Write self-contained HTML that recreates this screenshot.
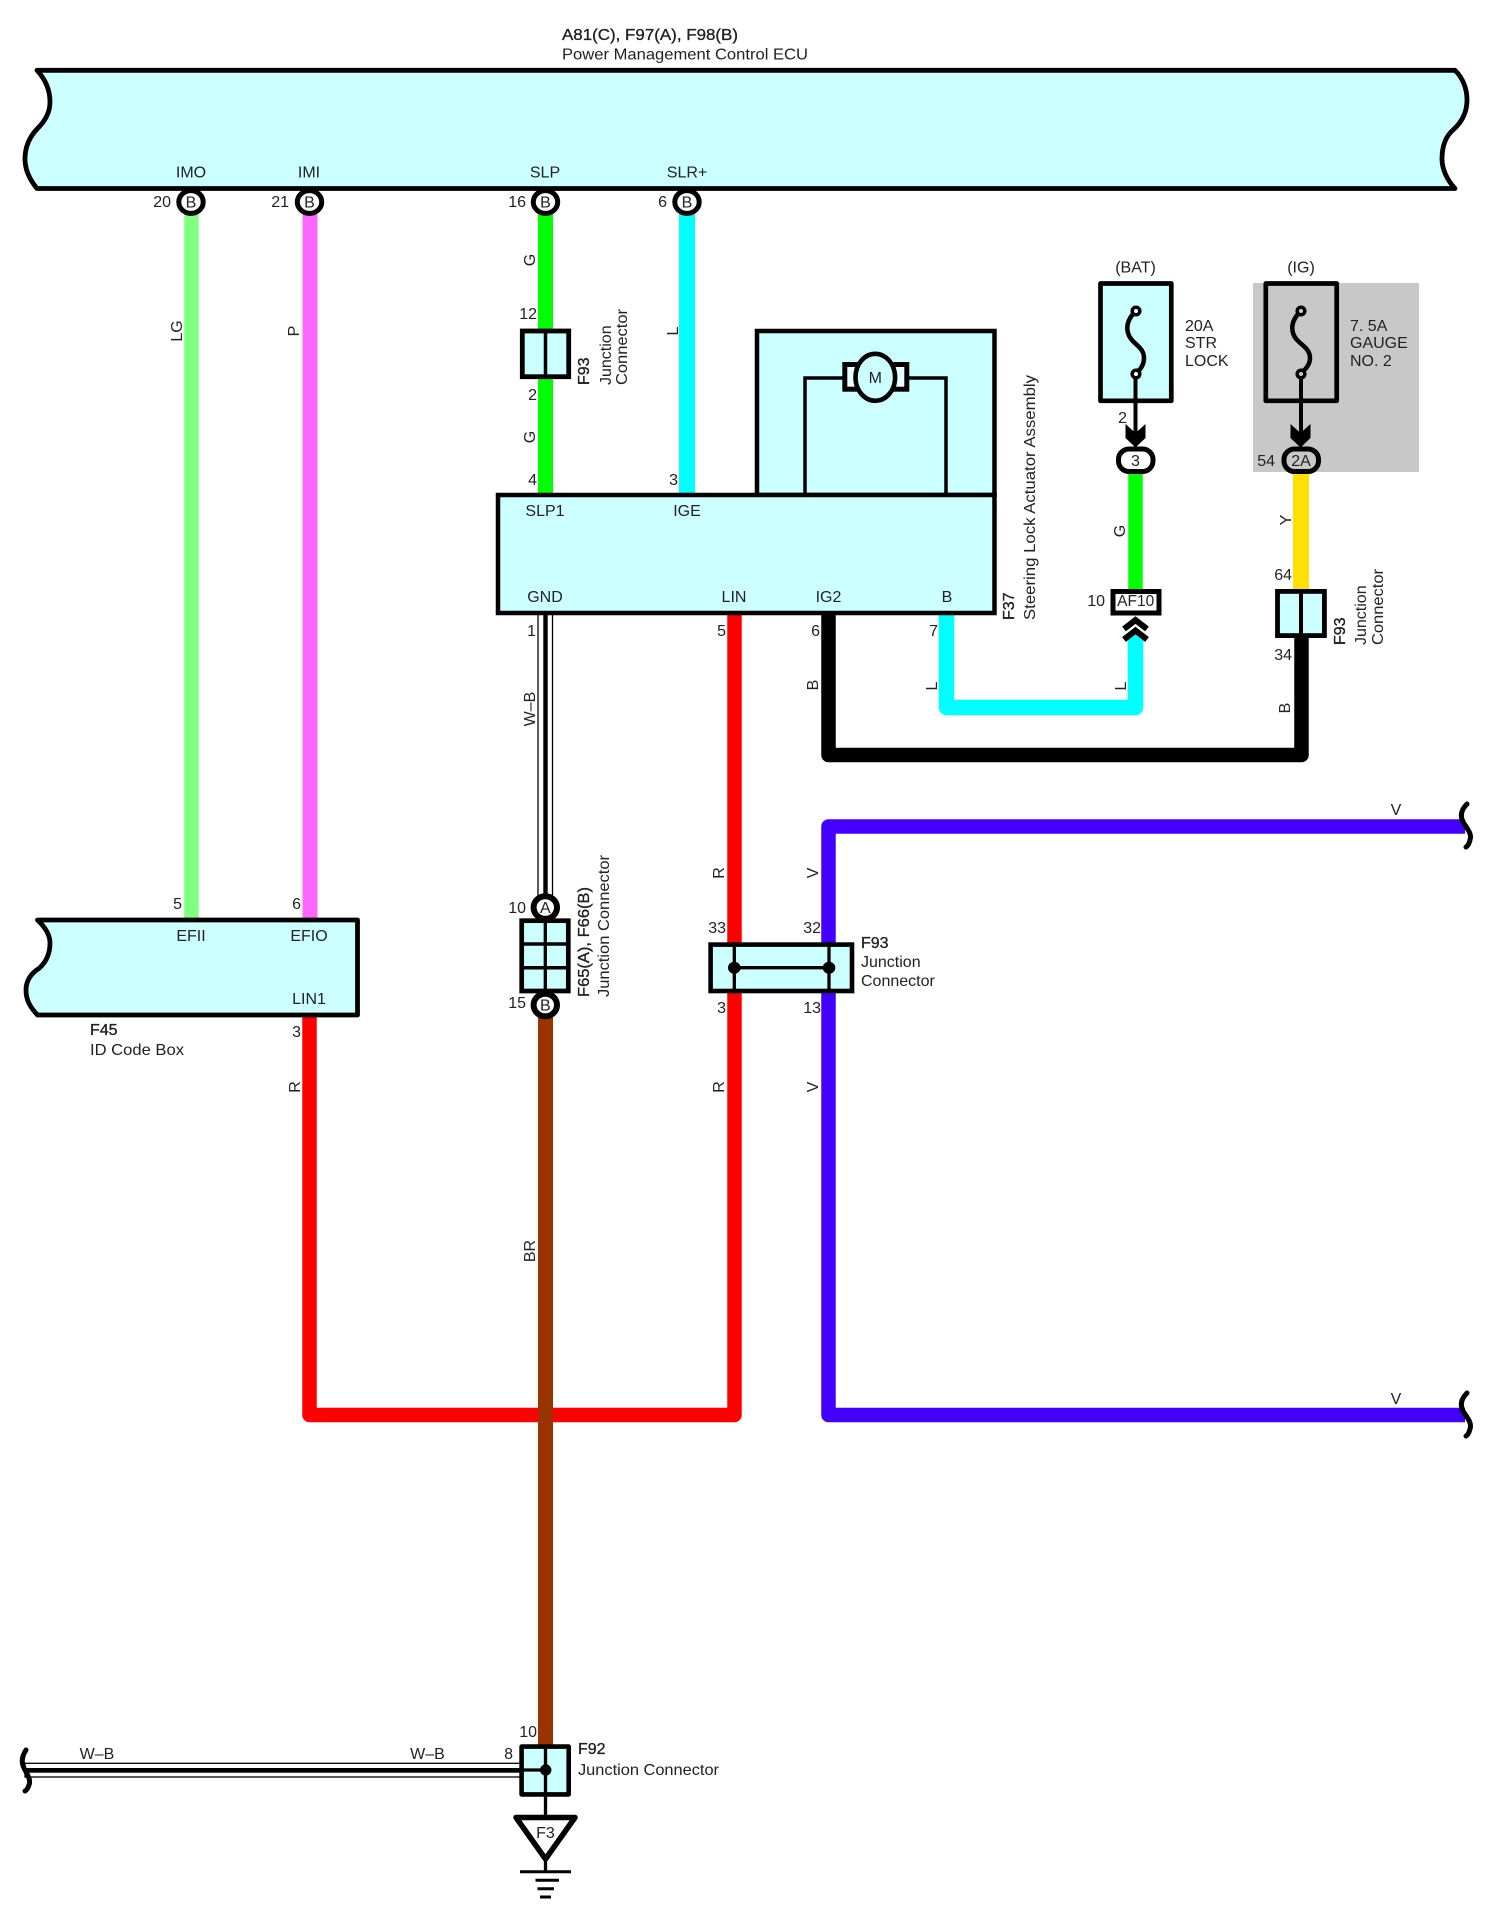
<!DOCTYPE html>
<html><head><meta charset="utf-8"><style>
html,body{margin:0;padding:0;background:#fff}
svg{display:block}
text{font-family:"Liberation Sans",Arial,sans-serif;font-size:16px;fill:#222}
.b{stroke:#111;stroke-width:.3px}
.m{text-anchor:middle}
.e{text-anchor:end}
</style></head><body>
<svg xmlns="http://www.w3.org/2000/svg" width="1494" height="1908" viewBox="0 0 1494 1908">
<rect width="1494" height="1908" fill="#fff"/>
<rect x="1253" y="283" width="166" height="189" fill="#c8c8c8"/>

<!-- wires -->
<g fill="none" stroke-linejoin="round">
<path d="M191.500 214V920" stroke="#80ff80" stroke-width="14.500"/>
<path d="M310 214V920" stroke="#ff66ff" stroke-width="15"/>
<path d="M545.500 214V495" stroke="#00ff00" stroke-width="15"/>
<path d="M687 214V495" stroke="#00ffff" stroke-width="16"/>
<path d="M1135.500 472V590" stroke="#00ff00" stroke-width="14.500"/>
<path d="M1301 472V590" stroke="#ffe000" stroke-width="16"/>
<path d="M946.500 612V707.500H1135.500V634" stroke="#00ffff" stroke-width="15.500"/>
<path d="M828.500 612V755H1301.500V636" stroke="#000" stroke-width="14.500"/>
<path d="M1465 826.500H828.500V1415H1465" stroke="#4400ff" stroke-width="14.500"/>
<path d="M309.500 1014V1415H734.500V612" stroke="#ff0000" stroke-width="14.500"/>
<path d="M545.500 1016V1746" stroke="#993300" stroke-width="15"/>
</g>

<!-- W-B wires -->
<rect x="538" y="612" width="14.500" height="285" fill="#fff" stroke="#000" stroke-width="1.300"/>
<rect x="543.300" y="612" width="4.400" height="285" fill="#000"/>
<rect x="25" y="1763.300" width="496" height="13.700" fill="#fff" stroke="#000" stroke-width="1.300"/>
<rect x="25" y="1768" width="496" height="4.700" fill="#000"/>

<!-- squiggles -->
<g fill="none" stroke="#000" stroke-width="5" stroke-linecap="round">
<path d="M1467 804C1461 810 1460 816 1463 822C1468 830 1472 834 1470 840C1469 844 1468 846 1466 847"/>
<path d="M1467 1393C1461 1399 1460 1405 1463 1411C1468 1419 1472 1423 1470 1429C1469 1433 1468 1435 1466 1436"/>
<path d="M26 1750C22 1756 21 1762 24 1768C28 1776 31 1780 29 1785C28 1788 27 1790 25 1791"/>
</g>

<!-- main ECU -->
<path d="M37 70.300H1455C1463 78 1467 89 1467 100C1467 112 1462 122 1453 130C1445 137 1442 148 1442 159C1442 169 1447 180 1455 188.500H37C30 180 25 170 25 159C25 148 29 137 38 128C46 120 50 112 50 102C50 90 45 79 37 70.300Z" fill="#ccffff" stroke="#000" stroke-width="4.800" stroke-linejoin="round"/>

<!-- F45 -->
<path d="M37.500 920H357.500V1015H37.500C30 1007 26 1000 26 990C26 981 30 974 39.500 968C46 962 50 954 50 943C50 935 45 927 37.500 920Z" fill="#ccffff" stroke="#000" stroke-width="4.800" stroke-linejoin="round"/>

<!-- F37 -->
<rect x="757" y="331" width="237.500" height="164" fill="#ccffff" stroke="#000" stroke-width="4.500"/>
<rect x="498" y="495" width="496.500" height="118" fill="#ccffff" stroke="#000" stroke-width="4.500"/>
<path d="M805 495V378H946V495" fill="none" stroke="#000" stroke-width="3.500"/>
<rect x="844.800" y="364.500" width="62" height="24.700" fill="#e8ffff" stroke="#000" stroke-width="5"/>
<ellipse cx="875.300" cy="377.300" rx="19.800" ry="23.500" fill="#ccffff" stroke="#000" stroke-width="4.600"/>

<!-- pin circles -->
<g fill="#fff" stroke="#000" stroke-width="5">
<ellipse cx="191" cy="202" rx="12.200" ry="11.400"/>
<ellipse cx="309.500" cy="202" rx="12.200" ry="11.400"/>
<ellipse cx="545.500" cy="202" rx="12.200" ry="11.400"/>
<ellipse cx="687" cy="202" rx="12.200" ry="11.400"/>
<ellipse cx="545.300" cy="907.500" rx="11.700" ry="11.300" stroke-width="6"/>
<ellipse cx="545.300" cy="1005" rx="11.700" ry="11.300" stroke-width="6"/>
</g>

<!-- junction F93 top -->
<rect x="522.300" y="331" width="46.400" height="45.700" fill="#ccffff" stroke="#000" stroke-width="4.800"/>
<path d="M545.500 331V377" stroke="#000" stroke-width="3.500"/>

<!-- F93 right -->
<rect x="1277.500" y="591.400" width="46.900" height="44.200" fill="#ccffff" stroke="#000" stroke-width="4.800"/>
<path d="M1301 591V637" stroke="#000" stroke-width="4"/>

<!-- F65/F66 -->
<rect x="521.700" y="920.700" width="46.600" height="70.300" fill="#ccffff" stroke="#000" stroke-width="4.700"/>
<path d="M545.300 921V991" stroke="#000" stroke-width="3.300"/>
<path d="M522 944H568M522 967.700H568" stroke="#000" stroke-width="3.500"/>

<!-- F93 mid -->
<rect x="710.600" y="944.600" width="141.400" height="46.400" fill="#ccffff" stroke="#000" stroke-width="4.600"/>
<path d="M734.300 945V991M829 945V991M734.300 967.700H829" stroke="#000" stroke-width="3.300"/>
<ellipse cx="734.300" cy="967.700" rx="6.300" ry="6" fill="#000"/>
<ellipse cx="829" cy="967.700" rx="6.300" ry="6" fill="#000"/>

<!-- fuses -->
<rect x="1100.500" y="283.500" width="70.800" height="117.300" fill="#ccffff" stroke="#000" stroke-width="4.700" stroke-linejoin="round"/>
<rect x="1265.800" y="283.500" width="70.900" height="117.300" fill="#c8c8c8" stroke="#000" stroke-width="4.700" stroke-linejoin="round"/>
<g fill="none" stroke="#000" stroke-width="4.500">
<path d="M1133 314C1128 320 1126 326 1128 333C1131 344 1144 346 1144 358C1144 364 1141 369 1138 371"/>
<path d="M1298 314C1293 320 1291 326 1293 333C1296 344 1310 346 1310 358C1310 364 1306 369 1303 371"/>
<path d="M1135.500 378V436M1301 378V436" stroke-width="4"/>
</g>
<g fill="#fff" stroke="#000" stroke-width="3.500">
<circle cx="1136" cy="311" r="3.800"/><circle cx="1136" cy="374" r="3.800"/>
</g>
<g fill="#c8c8c8" stroke="#000" stroke-width="3.500">
<circle cx="1301" cy="311" r="3.800"/><circle cx="1301" cy="374" r="3.800"/>
</g>
<path d="M1125.500 424L1135.500 433L1145.500 424V438L1135.500 447.500L1125.500 438Z" fill="#000"/>
<path d="M1290.500 424L1300.500 433L1310.500 424V438L1300.500 447.500L1290.500 438Z" fill="#000"/>
<rect x="1118.500" y="449" width="34.500" height="22.500" rx="10.500" ry="10.500" fill="#fff" stroke="#000" stroke-width="5"/>
<rect x="1284" y="449" width="34.500" height="22.500" rx="10.500" ry="10.500" fill="#c8c8c8" stroke="#000" stroke-width="5"/>

<!-- AF10 -->
<rect x="1113" y="591.500" width="46" height="21.500" fill="#fff" stroke="#000" stroke-width="5"/>
<g fill="none" stroke="#000" stroke-width="6">
<path d="M1124 629L1135.500 620L1147 629"/>
<path d="M1124 639.500L1135.500 630.500L1147 639.500"/>
</g>

<!-- F92 and ground -->
<rect x="521.600" y="1746.600" width="47.100" height="47.800" fill="#ccffff" stroke="#000" stroke-width="4.600" stroke-linejoin="round"/>
<path d="M545.500 1747V1818" stroke="#000" stroke-width="3.300"/>
<path d="M522 1770H545" stroke="#000" stroke-width="3.300"/>
<circle cx="545.700" cy="1770" r="5.700" fill="#000"/>
<path d="M516 1817.500H575L545.500 1859Z" fill="#fff" stroke="#000" stroke-width="5.500" stroke-linejoin="round"/>
<path d="M545.500 1858V1872" stroke="#000" stroke-width="3.300"/>
<path d="M520 1871.800H571M535.500 1880.300H559M537.500 1888.700H554M540 1897H551" stroke="#000" stroke-width="3"/>

<!-- text horizontal -->
<text class="b" x="562" y="40" textLength="176" lengthAdjust="spacingAndGlyphs">A81(C), F97(A), F98(B)</text>
<text x="562" y="59.500" textLength="246" lengthAdjust="spacingAndGlyphs">Power Management Control ECU</text>

<text class="m" x="191" y="177.500">IMO</text>
<text class="m" x="309" y="177.500">IMI</text>
<text class="m" x="545" y="177.500">SLP</text>
<text class="m" x="687" y="177.500">SLR+</text>
<text class="e" x="171" y="207">20</text>
<text class="e" x="289" y="207">21</text>
<text class="e" x="526" y="207">16</text>
<text class="e" x="667" y="207">6</text>
<text class="m" x="191" y="207.500">B</text>
<text class="m" x="309.500" y="207.500">B</text>
<text class="m" x="545.500" y="207.500">B</text>
<text class="m" x="687" y="207.500">B</text>

<text class="e" x="537" y="319">12</text>
<text class="e" x="537" y="400">2</text>
<text class="e" x="537" y="485">4</text>
<text class="e" x="678" y="485">3</text>

<text class="m" x="545" y="516">SLP1</text>
<text class="m" x="687" y="516">IGE</text>
<text class="m" x="545" y="602">GND</text>
<text class="m" x="734" y="602">LIN</text>
<text class="m" x="828.500" y="602">IG2</text>
<text class="m" x="947" y="602">B</text>
<text class="e" x="536" y="636">1</text>
<text class="e" x="726" y="636">5</text>
<text class="e" x="820" y="636">6</text>
<text class="e" x="938" y="636">7</text>
<text class="m" x="875.300" y="383">M</text>

<text class="m" x="1135.500" y="272.500">(BAT)</text>
<text class="m" x="1301" y="272.500">(IG)</text>
<text x="1185" y="331">20A</text>
<text x="1185" y="348">STR</text>
<text x="1185" y="366">LOCK</text>
<text x="1350" y="331">7. 5A</text>
<text x="1350" y="348">GAUGE</text>
<text x="1350" y="366">NO. 2</text>
<text class="e" x="1127" y="423">2</text>
<text class="e" x="1275" y="466">54</text>
<text class="m" x="1135.500" y="466">3</text>
<text class="m" x="1301" y="466">2A</text>
<text class="e" x="1105" y="606">10</text>
<text class="m" x="1135.700" y="606" style="font-size:15.500px">AF10</text>
<text class="e" x="1292" y="580">64</text>
<text class="e" x="1292" y="660">34</text>

<text class="m" x="1396" y="815">V</text>
<text class="m" x="1396" y="1404">V</text>

<text class="e" x="182" y="909">5</text>
<text class="e" x="301" y="909">6</text>
<text class="m" x="191" y="941">EFII</text>
<text class="m" x="309" y="941">EFIO</text>
<text class="m" x="309" y="1004">LIN1</text>
<text class="e" x="301" y="1037">3</text>
<text class="b" x="90" y="1035">F45</text>
<text x="90" y="1055" textLength="94" lengthAdjust="spacingAndGlyphs">ID Code Box</text>

<text class="e" x="526" y="913">10</text>
<text class="e" x="526" y="1008">15</text>
<text class="m" x="545.300" y="913">A</text>
<text class="m" x="545.300" y="1010.500">B</text>
<text class="e" x="726" y="933">33</text>
<text class="e" x="821" y="933">32</text>
<text class="e" x="726" y="1013">3</text>
<text class="e" x="821" y="1013">13</text>
<text class="b" x="861" y="948">F93</text>
<text x="861" y="967">Junction</text>
<text x="861" y="986">Connector</text>

<text class="e" x="537" y="1737">10</text>
<text class="e" x="513" y="1759">8</text>
<text class="m" x="97" y="1759">W–B</text>
<text class="m" x="427.500" y="1759">W–B</text>
<text class="b" x="578" y="1754">F92</text>
<text x="578" y="1775" textLength="141" lengthAdjust="spacingAndGlyphs">Junction Connector</text>
<text class="m" x="545.500" y="1838">F3</text>

<!-- rotated wire labels -->
<g>
<text text-anchor="middle" transform="translate(182,331) rotate(-90)">LG</text>
<text text-anchor="middle" transform="translate(299,331) rotate(-90)">P</text>
<text text-anchor="middle" transform="translate(535,260) rotate(-90)">G</text>
<text text-anchor="middle" transform="translate(535,437) rotate(-90)">G</text>
<text text-anchor="middle" transform="translate(678,331) rotate(-90)">L</text>
<text text-anchor="middle" transform="translate(1125,531) rotate(-90)">G</text>
<text text-anchor="middle" transform="translate(1291,520) rotate(-90)">Y</text>
<text text-anchor="middle" transform="translate(818,685) rotate(-90)">B</text>
<text text-anchor="middle" transform="translate(937,686) rotate(-90)">L</text>
<text text-anchor="middle" transform="translate(1126,686) rotate(-90)">L</text>
<text text-anchor="middle" transform="translate(1290,708) rotate(-90)">B</text>
<text text-anchor="middle" transform="translate(818,873) rotate(-90)">V</text>
<text text-anchor="middle" transform="translate(818,1087) rotate(-90)">V</text>
<text text-anchor="middle" transform="translate(724,873) rotate(-90)">R</text>
<text text-anchor="middle" transform="translate(724,1087) rotate(-90)">R</text>
<text text-anchor="middle" transform="translate(300,1087) rotate(-90)">R</text>
<text text-anchor="middle" transform="translate(535,1251) rotate(-90)">BR</text>
<text text-anchor="middle" transform="translate(535,709) rotate(-90)">W–B</text>
</g>

<!-- rotated component labels -->
<text class="b" transform="translate(589,385) rotate(-90)">F93</text>
<text transform="translate(611,385) rotate(-90)">Junction</text>
<text transform="translate(627,385) rotate(-90)" textLength="76" lengthAdjust="spacingAndGlyphs">Connector</text>
<text class="b" transform="translate(1014,620) rotate(-90)">F37</text>
<text transform="translate(1035,620) rotate(-90)" textLength="245" lengthAdjust="spacingAndGlyphs">Steering Lock Actuator Assembly</text>
<text class="b" transform="translate(589,997) rotate(-90)" textLength="110" lengthAdjust="spacingAndGlyphs">F65(A), F66(B)</text>
<text transform="translate(609,997) rotate(-90)" textLength="142" lengthAdjust="spacingAndGlyphs">Junction Connector</text>
<text class="b" transform="translate(1345,645) rotate(-90)">F93</text>
<text transform="translate(1366,645) rotate(-90)">Junction</text>
<text transform="translate(1383,645) rotate(-90)" textLength="76" lengthAdjust="spacingAndGlyphs">Connector</text>
</svg>
</body></html>
